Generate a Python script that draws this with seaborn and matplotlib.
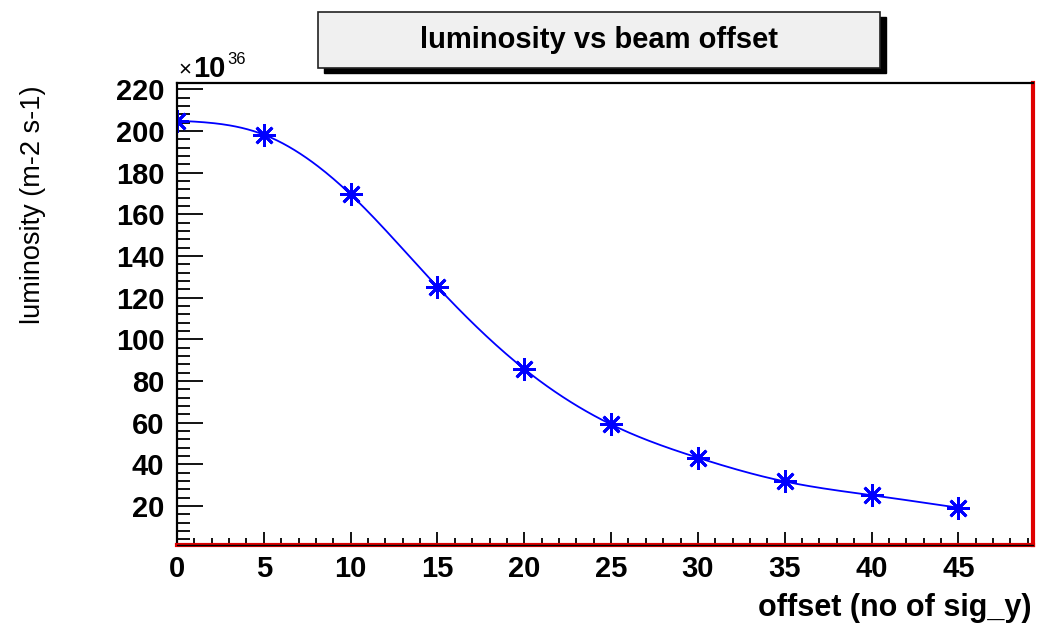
import numpy as np
import pandas as pd
import seaborn as sns
import matplotlib
matplotlib.use("Agg")
import matplotlib.pyplot as plt
from matplotlib.patches import Rectangle
from matplotlib.ticker import MultipleLocator

# beam offset (units of sigma_y) and luminosity (x 1e36 m^-2 s^-1)
offset = [0, 5, 10, 15, 20, 25, 30, 35, 40, 45]
luminosity = [205.0, 198.3, 169.6, 125.2, 85.8, 59.2, 43.2, 31.8, 25.2, 19.2]

title_text = "luminosity vs beam offset"
x_label = "offset (no of sig_y)"
y_label = "luminosity (m-2 s-1)"

sns.set_theme(style="white")
plt.rcParams["font.family"] = ["Liberation Sans", "DejaVu Sans"]
plt.rcParams["text.color"] = "black"
plt.rcParams["xtick.color"] = "black"
plt.rcParams["ytick.color"] = "black"
plt.rcParams["xtick.labelcolor"] = "black"
plt.rcParams["ytick.labelcolor"] = "black"

df = pd.DataFrame({"offset": offset, "luminosity": luminosity})


def natural_spline(x, y, n=400):
    """Smooth curve through the points (natural cubic spline)."""
    x = np.asarray(x, float)
    y = np.asarray(y, float)
    k = len(x)
    h = np.diff(x)
    A = np.zeros((k, k))
    b = np.zeros(k)
    A[0, 0] = A[-1, -1] = 1.0
    for i in range(1, k - 1):
        A[i, i - 1] = h[i - 1]
        A[i, i] = 2 * (h[i - 1] + h[i])
        A[i, i + 1] = h[i]
        b[i] = 6 * ((y[i + 1] - y[i]) / h[i] - (y[i] - y[i - 1]) / h[i - 1])
    m = np.linalg.solve(A, b)
    xs = np.linspace(x[0], x[-1], n)
    idx = np.clip(np.searchsorted(x, xs) - 1, 0, k - 2)
    x0, x1 = x[idx], x[idx + 1]
    hh = x1 - x0
    t0, t1 = x1 - xs, xs - x0
    ys = (m[idx] * t0 ** 3 + m[idx + 1] * t1 ** 3) / (6 * hh) \
        + (y[idx] / hh - m[idx] * hh / 6) * t0 \
        + (y[idx + 1] / hh - m[idx + 1] * hh / 6) * t1
    return xs, ys


W, H = 1038, 626
fig = plt.figure(figsize=(W / 100, H / 100), dpi=100)
ax = fig.add_axes([177 / W, 1 - 545 / H, (1033 - 177) / W, (545 - 83) / H])

cx, cy = natural_spline(df["offset"], df["luminosity"])
curve = pd.DataFrame({"offset": cx, "luminosity": cy})
sns.lineplot(data=curve, x="offset", y="luminosity", ax=ax, color="#0000ff",
             linewidth=1.3, sort=False, estimator=None)
ax.plot(df["offset"], df["luminosity"], linestyle="none", marker=(8, 2, 0),
        markersize=16, markeredgewidth=2.0, color="#0000ff")

ax.set_xlim(0, 49.3)
ax.set_ylim(1.3, 223.1)
ax.xaxis.set_major_locator(MultipleLocator(5))
ax.xaxis.set_minor_locator(MultipleLocator(1))
ax.yaxis.set_major_locator(MultipleLocator(20))
ax.yaxis.set_minor_locator(MultipleLocator(4))
ax.set_xticks(range(0, 50, 5))
ax.set_yticks(range(20, 221, 20))

ax.tick_params(axis="x", which="major", direction="in", length=9.5, width=1.3,
               color="black", labelsize=21, pad=7, bottom=True)
ax.tick_params(axis="x", which="minor", direction="in", length=5, width=1.3,
               color="black", bottom=True)
ax.tick_params(axis="y", which="major", direction="in", length=19, width=1.3,
               color="black", labelsize=21, pad=9, left=True)
ax.tick_params(axis="y", which="minor", direction="in", length=9.5, width=1.3,
               color="black", left=True)
for lbl in ax.get_xticklabels() + ax.get_yticklabels():
    lbl.set_fontweight("bold")
    lbl.set_color("black")

ax.set_xlabel("")
ax.set_ylabel("")
for side in ("left", "top"):
    ax.spines[side].set_color("black")
    ax.spines[side].set_linewidth(1.6)
for side in ("bottom", "right"):
    ax.spines[side].set_color("#e00000")
    ax.spines[side].set_linewidth(3.0)
ax.axhline(1.3, color="black", linewidth=1.0, zorder=5, clip_on=False)

# axis titles
fig.text(1031 / W, 1 - 608 / H, x_label, ha="right", va="center",
         fontsize=22, fontweight="bold")
fig.text(33 / W, 1 - 85 / H, y_label, ha="center", va="top",
         rotation=90, fontsize=19.5)

# exponent label
fig.text(178 / W, 1 - 70 / H, "×", ha="left", va="center", fontsize=16)
fig.text(193 / W, 1 - 69 / H, "10", ha="left", va="center", fontsize=21,
         fontweight="bold")
fig.text(227 / W, 1 - 60 / H, "36", ha="left", va="center", fontsize=12)

# title box with drop shadow
bx0, bx1, by0, by1 = 318, 880, 12, 68
fig.patches.append(Rectangle(((bx0 + 6) / W, 1 - (by1 + 5) / H),
                             (bx1 - bx0) / W, (by1 - by0) / H,
                             transform=fig.transFigure, facecolor="black",
                             edgecolor="black", zorder=1))
fig.patches.append(Rectangle((bx0 / W, 1 - by1 / H),
                             (bx1 - bx0) / W, (by1 - by0) / H,
                             transform=fig.transFigure, facecolor="#f0f0f0",
                             edgecolor="#222222", linewidth=1.2, zorder=2))
fig.text((bx0 + bx1) / 2 / W, 1 - 40 / H, title_text, ha="center",
         va="center", fontsize=21, fontweight="bold", zorder=3)

fig.savefig("out.png", dpi=100)
